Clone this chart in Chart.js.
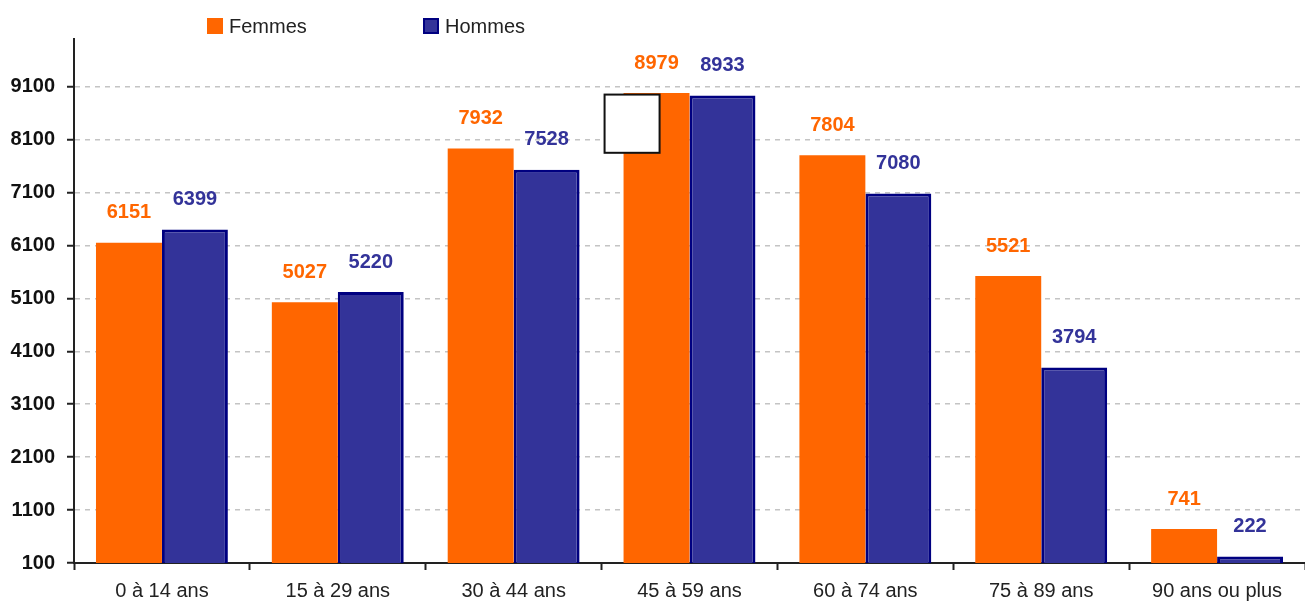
<!DOCTYPE html>
<html>
<head>
<meta charset="utf-8">
<script src="https://cdn.jsdelivr.net/npm/chart.js@4"></script>
<style>
html,body{margin:0;padding:0;background:#fff;overflow:hidden;}
#wrap{width:1305px;height:603px;position:relative;}
</style>
</head>
<body>
<div id="wrap"><canvas id="c"></canvas></div>
<script>
const categories = ["0 à 14 ans","15 à 29 ans","30 à 44 ans","45 à 59 ans","60 à 74 ans","75 à 89 ans","90 ans ou plus"];
const femmes = [6151,5027,7932,8979,7804,5521,741];
const hommes = [6399,5220,7528,8933,7080,3794,222];
const yTicks = [100,1100,2100,3100,4100,5100,6100,7100,8100,9100];

const FONT = "'Liberation Sans', Arial, sans-serif";

const valueLabels = {
  id:'valueLabels',
  afterDatasetsDraw(chart){
    const ctx = chart.ctx;
    ctx.save();
    ctx.font = "bold 20px " + FONT;
    ctx.textAlign = 'center';
    ctx.textBaseline = 'bottom';
    chart.data.datasets.forEach((ds,i)=>{
      const meta = chart.getDatasetMeta(i);
      meta.data.forEach((bar,j)=>{
        ctx.fillStyle = ds.labelColor;
        ctx.fillText(String(ds.data[j]), bar.x, bar.y - 20);
      });
    });
    ctx.restore();
  }
};

const customLegend = {
  id:'customLegend',
  afterDraw(chart){
    const ctx = chart.ctx;
    ctx.save();
    ctx.font = "20px " + FONT;
    ctx.textBaseline = 'middle';
    ctx.textAlign = 'left';
    const starts = [207, 423];
    chart.data.datasets.forEach((ds,i)=>{
      const x = starts[i], y = 18;
      ctx.fillStyle = ds.backgroundColor;
      ctx.fillRect(x, y, 16, 16);
      if (ds.borderWidth) {
        ctx.strokeStyle = ds.borderColor;
        ctx.lineWidth = 2;
        ctx.strokeRect(x+1, y+1, 14, 14);
      }
      ctx.fillStyle = '#222';
      ctx.fillText(ds.label, x + 22, y + 9);
    });
    ctx.restore();
  }
};

const artifactBox = {
  id:'artifactBox',
  afterDatasetsDraw(chart){
    const xs = chart.scales.x, ys = chart.scales.y;
    const catW = xs.width / categories.length;
    const x0 = xs.getPixelForValue(3) - catW/2 + 3;
    const y0 = ys.getPixelForValue(8950);
    const y1 = ys.getPixelForValue(7850);
    const ctx = chart.ctx;
    ctx.save();
    ctx.fillStyle = '#fff';
    ctx.fillRect(x0, y0, 55, y1 - y0);
    ctx.strokeStyle = '#111';
    ctx.lineWidth = 2;
    ctx.strokeRect(x0, y0, 55, y1 - y0);
    ctx.restore();
  }
};

new Chart(document.getElementById('c'), {
  type:'bar',
  data:{
    labels: categories,
    datasets:[
      {label:'Femmes', data: femmes, backgroundColor:'#FF6600', borderWidth:0, labelColor:'#FF6600'},
      {label:'Hommes', data: hommes, backgroundColor:'#333399', borderColor:'#000080', borderWidth:3, labelColor:'#333399'}
    ]
  },
  options:{
    responsive:true,
    maintainAspectRatio:false,
    animation:false,
    datasets:{bar:{categoryPercentage:0.75, barPercentage:1.0, borderSkipped:'bottom'}},
    layout:{padding:{top:39, left:0, right:-6, bottom:0}},
    plugins:{legend:{display:false}, tooltip:{enabled:false}},
    scales:{
      x:{
        afterFit(scale){ scale.height = 40; },
        grid:{display:true, drawOnChartArea:false, drawTicks:true, tickLength:7, tickColor:'#222', tickWidth:2, offset:true},
        border:{display:true, color:'#222', width:2},
        ticks:{font:{family:FONT, size:20}, color:'#222', padding:9, maxRotation:0, autoSkip:false}
      },
      y:{
        min:100, max:10000,
        afterBuildTicks(scale){ scale.ticks = yTicks.map(v=>({value:v})); },
        afterFit(scale){ scale.width = 74; },
        grid:{display:true, color:(c)=> c.tick && c.tick.value===100 ? 'rgba(0,0,0,0)' : '#c4c4c4', lineWidth:1.5, tickColor:'#222', tickLength:7, tickWidth:2},
        border:{display:true, color:'#222', width:2, dash:[5,5]},
        ticks:{font:{family:FONT, size:20, weight:'bold'}, color:'#111', padding:12, callback:(v)=>String(v)},
      }
    }
  },
  plugins:[valueLabels, customLegend, artifactBox]
});
</script>
</body>
</html>
